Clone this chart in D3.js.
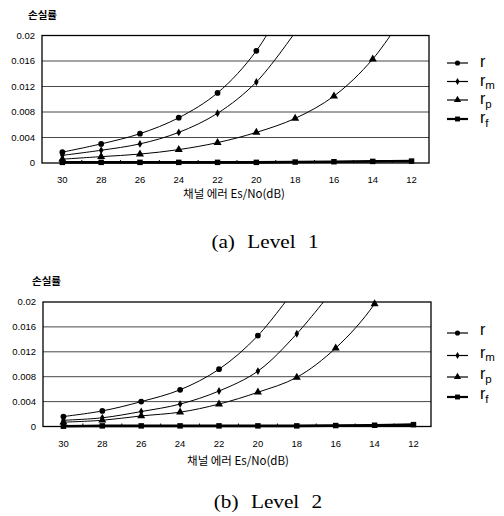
<!DOCTYPE html>
<html>
<head>
<meta charset="utf-8">
<script src="https://d3js.org/d3.v7.min.js"></script>
<style>
  body { margin: 0; background: #fff; }
  text { font-family: "Liberation Sans", Arial, sans-serif; fill: #000; }
  .kr { font-family: "Noto Sans CJK KR", "Noto Sans", sans-serif; }
  .cap { font-family: "Liberation Serif", "Times New Roman", serif; }
</style>
</head>
<body>
<svg id="chart" width="504" height="516"></svg>
<script>
// x categories (channel Es/No in dB) and y ticks
const dbTicks = [30, 28, 26, 24, 22, 20, 18, 16, 14, 12]
const yTicks = [0, 0.004, 0.008, 0.012, 0.016, 0.02]
const yTickLabels = ["0", "0.004", "0.008", "0.012", "0.016", "0.02"]
const seriesSubs = ["", "m", "p", "f"]

// Level 1 (values past the top of the chart get clipped)
const l1_r  = [0.0017, 0.0030, 0.0046, 0.0071, 0.0110, 0.0176, 0.028]
const l1_rm = [0.0012, 0.0020, 0.0030, 0.0048, 0.0078, 0.0127, 0.0205]
const l1_rp = [0.0006, 0.0010, 0.0014, 0.0021, 0.0032, 0.0048, 0.0070, 0.0105, 0.0163, 0.025]
const l1_rf = [0.0001, 0.0001, 0.0001, 0.0001, 0.0001, 0.0001, 0.00015, 0.0002, 0.00025, 0.0003]

// Level 2
const l2_r  = [0.0016, 0.0025, 0.0040, 0.0059, 0.0092, 0.0146, 0.0225]
const l2_rm = [0.0010, 0.0014, 0.0024, 0.0036, 0.0057, 0.0089, 0.0149, 0.0225]
const l2_rp = [0.0007, 0.0010, 0.0017, 0.0023, 0.0036, 0.0055, 0.0079, 0.0126, 0.0197, 0.031]
const l2_rf = [0.00005, 0.0001, 0.0001, 0.0001, 0.0001, 0.0001, 0.0001, 0.00015, 0.0002, 0.0003]

const panels = [
  { id: "a", series: [l1_r, l1_rm, l1_rp, l1_rf], caption: "(a) Level 1",
    left: 42, right: 429, top: 35.5, bottom: 163,
    legY: [63, 81.5, 100, 119], legOff: 4, capY: 248, capX: 265,
    yTitleY: 19, yTitleX: 28, xTitleY: 198, xTitleX: 234 },
  { id: "b", series: [l2_r, l2_rm, l2_rp, l2_rf], caption: "(b) Level 2",
    left: 43, right: 431, top: 302, bottom: 426.5,
    legY: [333, 355.5, 377, 397], legOff: 2, capY: 508, capX: 268,
    yTitleY: 285, yTitleX: 32, xTitleY: 465, xTitleX: 238 }
]

const symbols = [d3.symbolCircle, d3.symbolDiamond, d3.symbolTriangle, d3.symbolSquare]
const symSizes = [26, 18, 28, 30]
const lineWidths = [1, 1, 1, 2.6]

const svg = d3.select("#chart")

panels.forEach(p => {
  const g = svg.append("g")
  const x = d3.scaleLinear().domain([31.05, 11.1]).range([p.left, p.right])
  const y = d3.scaleLinear().domain([0, 0.02]).range([p.bottom, p.top])

  // grid lines
  g.selectAll(".grid")
    .data(yTicks.slice(1, -1))
    .enter().append("line")
    .attr("x1", p.left).attr("x2", p.right)
    .attr("y1", d => y(d)).attr("y2", d => y(d))
    .attr("stroke", "#333").attr("stroke-width", 0.9)

  // frame
  g.append("rect")
    .attr("x", p.left).attr("y", p.top)
    .attr("width", p.right - p.left).attr("height", p.bottom - p.top)
    .attr("fill", "none").attr("stroke", "#000").attr("stroke-width", 1.3)

  // minor ticks at odd dB
  g.selectAll(".mt")
    .data(d3.range(29, 11, -2))
    .enter().append("line")
    .attr("x1", d => x(d)).attr("x2", d => x(d))
    .attr("y1", p.bottom).attr("y2", p.bottom - 3)
    .attr("stroke", "#000").attr("stroke-width", 1)

  // y tick labels
  g.selectAll(".yl")
    .data(yTicks)
    .enter().append("text")
    .attr("x", p.left - 7).attr("y", d => y(d)).attr("dy", "0.35em")
    .attr("text-anchor", "end").attr("font-size", 9.5)
    .text((d, i) => yTickLabels[i])

  // x tick labels
  g.selectAll(".xl")
    .data(dbTicks)
    .enter().append("text")
    .attr("x", d => x(d)).attr("y", p.bottom + 20)
    .attr("text-anchor", "middle").attr("font-size", 9.5)
    .text(d => d)

  g.append("text").attr("class", "kr")
    .attr("x", p.xTitleX).attr("y", p.xTitleY)
    .attr("text-anchor", "middle").attr("font-size", 11.5)
    .text("채널 에러 Es/No(dB)")

  g.append("text").attr("class", "kr")
    .attr("x", p.yTitleX).attr("y", p.yTitleY)
    .attr("font-size", 10.5).attr("font-weight", "bold")
    .text("손실률")

  // clip for lines
  const clipId = "clip-" + p.id
  svg.append("clipPath").attr("id", clipId)
    .append("rect")
    .attr("x", p.left).attr("y", p.top)
    .attr("width", p.right - p.left).attr("height", p.bottom - p.top + 4)

  const line = d3.line()
    .x((d, i) => x(dbTicks[i]))
    .y(d => y(d))
    .curve(d3.curveCatmullRom.alpha(0.5))

  p.series.forEach((vals, si) => {
    g.append("path")
      .attr("d", line(vals))
      .attr("clip-path", `url(#${clipId})`)
      .attr("fill", "none").attr("stroke", "#000")
      .attr("stroke-width", lineWidths[si])

    g.selectAll(".m" + si)
      .data(vals.map((v, i) => ({ v: v, db: dbTicks[i] })).filter(d => d.v <= 0.0201))
      .enter().append("path")
      .attr("d", d3.symbol().type(symbols[si]).size(symSizes[si]))
      .attr("transform", d => `translate(${x(d.db)},${y(d.v)})`)
      .attr("fill", "#000")
  })

  // legend
  const leg = g.selectAll(".leg")
    .data(seriesSubs)
    .enter().append("g")
    .attr("transform", (d, i) => `translate(447,${p.legY[i]})`)
  leg.append("line")
    .attr("x1", 0).attr("x2", 21)
    .attr("stroke", "#000").attr("stroke-width", (d, i) => lineWidths[i] === 1 ? 1.2 : 2.2)
  leg.append("path")
    .attr("d", (d, i) => d3.symbol().type(symbols[i]).size(symSizes[i] * 0.8)())
    .attr("transform", "translate(10.5,0)")
  const lt = leg.append("text")
    .attr("x", 33).attr("y", p.legOff)
    .attr("font-size", 16)
  lt.append("tspan").text("r")
  lt.append("tspan").attr("font-size", 11.5).attr("dy", 3.5).text(d => d)

  // caption
  svg.append("g")
    .attr("transform", `translate(${p.capX},${p.capY}) scale(1.18,1)`)
    .append("text").attr("class", "cap")
    .attr("text-anchor", "middle").attr("font-size", 18)
    .attr("word-spacing", 6)
    .text(p.caption)
})
</script>
</body>
</html>
